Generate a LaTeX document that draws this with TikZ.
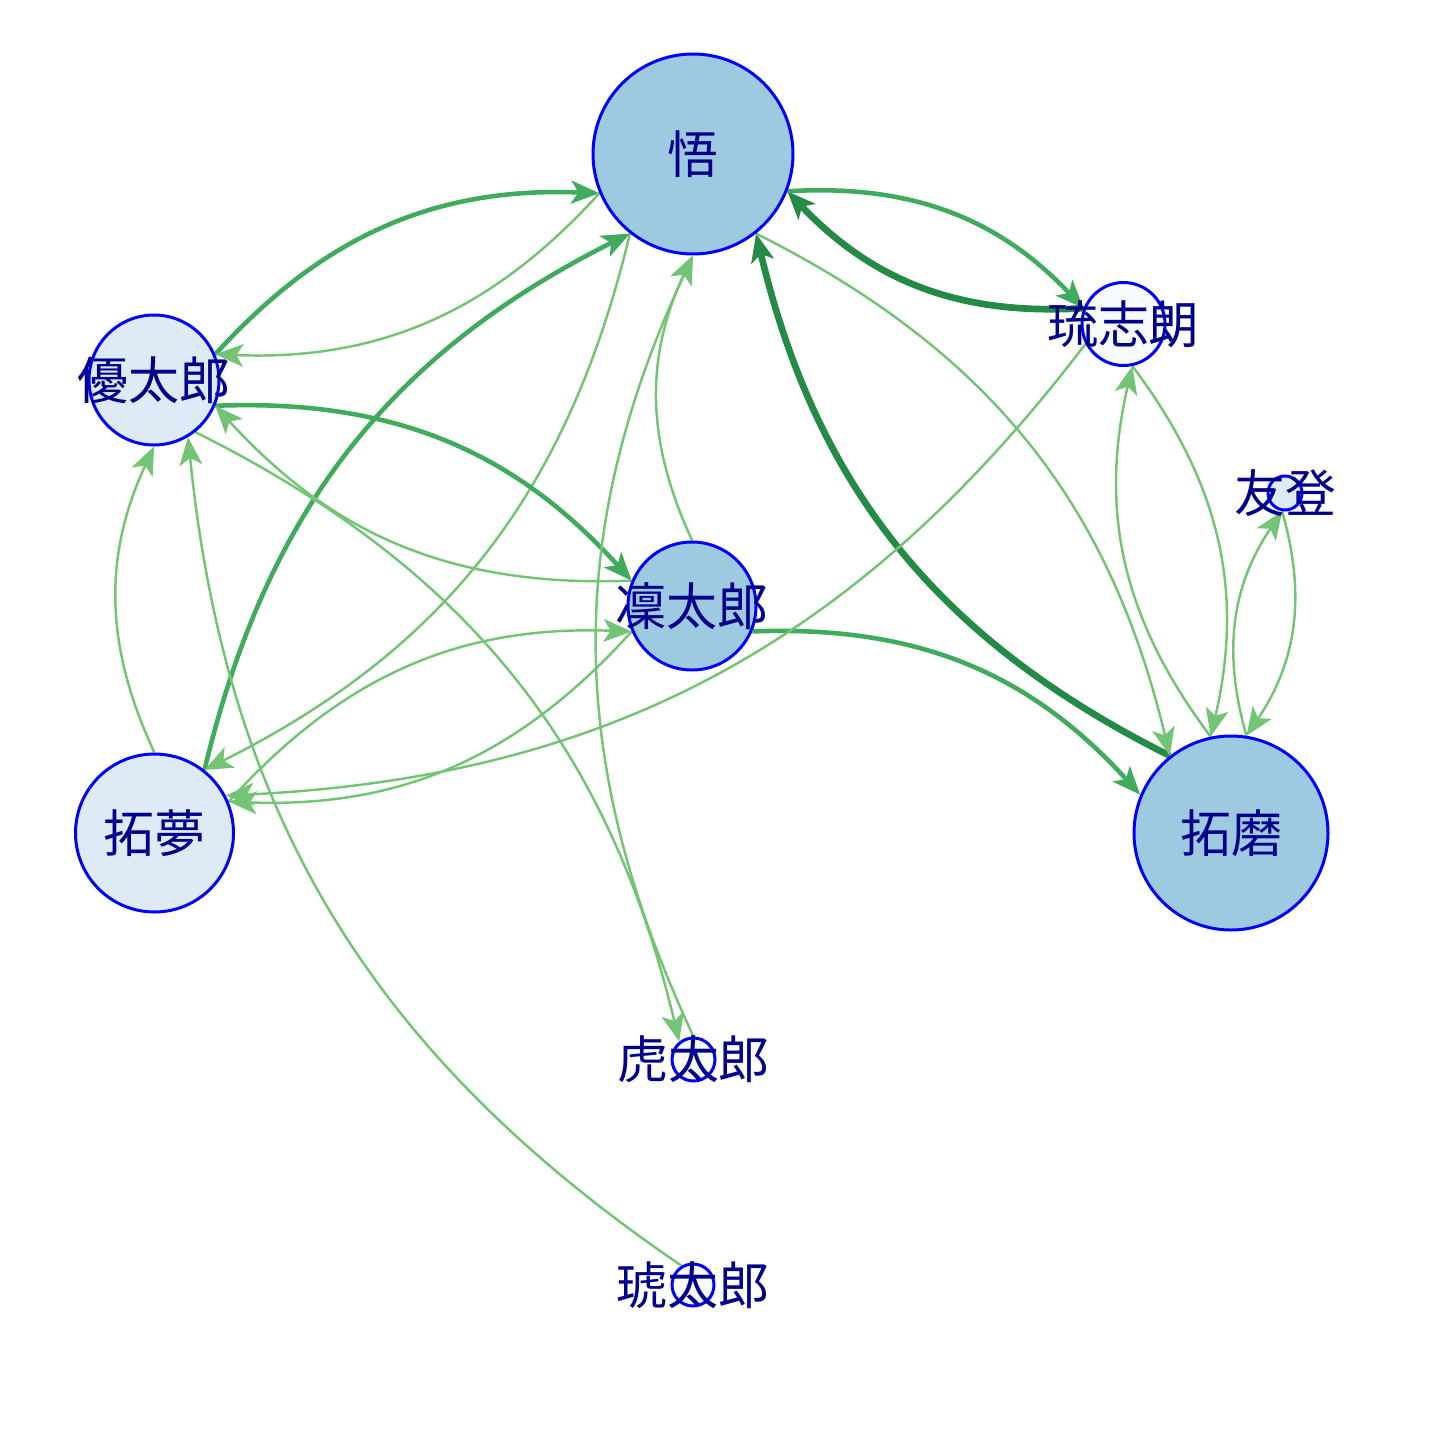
\documentclass[tikz,border=0pt]{standalone}
\usepackage{fontspec}
\newfontfamily\cjk{Noto Sans CJK JP}
\usetikzlibrary{arrows.meta}
\usetikzlibrary{backgrounds}
\definecolor{filldark}{HTML}{9ECAE1}
\definecolor{fillmid}{HTML}{DEEBF7}
\definecolor{fillpale}{HTML}{F7FBFF}
\definecolor{nameink}{HTML}{00008B}
\definecolor{tieweak}{HTML}{74C476}
\definecolor{tiemid}{HTML}{41AB5D}
\definecolor{tiestrong}{HTML}{238B45}
\tikzstyle{person}=[circle, draw=blue, line width=0.85pt, inner sep=0pt]
\tikzstyle{nametag}=[text=nameink, font=\cjk\fontsize{14.5}{14.5}\selectfont, inner sep=0pt]
\tikzstyle{tie}=[-{Stealth[length=8pt,width=6.5pt,inset=2pt]}, bend left=25]
\tikzstyle{weak tie}=[tie, draw=tieweak, line width=0.7pt]
\tikzstyle{mid tie}=[tie, draw=tiemid, line width=1.3pt]
\tikzstyle{strong tie}=[tie, draw=tiestrong, line width=1.9pt]
% curved tie that leaves both circles where the straight line between them would
\newcommand{\drawtie}[3]{%
  \path (#2) -- (#3) coordinate[pos=0] (tie from) coordinate[pos=1] (tie to);
  \draw[#1] (tie from) to (tie to);}

\begin{document}
\begin{tikzpicture}
      \useasboundingbox (0, 0) rectangle (14.4, -14.4);

      \node[person, fill=filldark, minimum size=2cm] (satoru) at (6.93, -1.54) {};
      \node[person, fill=fillpale, minimum size=0.83cm] (ryushiro) at (11.235, -3.24) {};
      \node[person, fill=fillmid, minimum size=1.3cm] (yutaro) at (1.54, -3.8) {};
      \node[person, fill=fillmid, minimum size=0.34cm] (yuto) at (12.85, -4.93) {};
      \node[person, fill=filldark, minimum size=1.28cm] (rintaro) at (6.92, -6.06) {};
      \node[person, fill=fillmid, minimum size=1.58cm] (takumu) at (1.545, -8.33) {};
      \node[person, fill=filldark, minimum size=1.94cm] (takuma) at (12.31, -8.33) {};
      \node[person, fill=fillpale, minimum size=0.43cm] (kotaro) at (6.935, -10.595) {};
      \node[person, fill=fillpale, minimum size=0.42cm] (kotaro2) at (6.93, -12.85) {};

      \node[nametag] at (satoru) {悟};
      \node[nametag] at (ryushiro) {琉志朗};
      \node[nametag] at (yutaro) {優太郎};
      \node[nametag] at (yuto) {友登};
      \node[nametag] at (rintaro) {凜太郎};
      \node[nametag] at (takumu) {拓夢};
      \node[nametag] at (takuma) {拓磨};
      \node[nametag] at (kotaro) {虎太郎};
      \node[nametag] at (kotaro2) {琥太郎};

      \begin{scope}[on background layer]
        \drawtie{mid tie}{yutaro}{satoru}
        \drawtie{weak tie}{satoru}{yutaro}
        \drawtie{mid tie}{takumu}{satoru}
        \drawtie{weak tie}{satoru}{takumu}
        \drawtie{mid tie}{yutaro}{rintaro}
        \drawtie{weak tie}{rintaro}{yutaro}
        \drawtie{strong tie}{ryushiro}{satoru}
        \drawtie{mid tie}{satoru}{ryushiro}
        \drawtie{strong tie}{takuma}{satoru}
        \drawtie{weak tie}{satoru}{takuma}
        \drawtie{mid tie}{rintaro}{takuma}
        \drawtie{weak tie}{rintaro}{satoru}
        \drawtie{weak tie}{kotaro}{satoru}
        \drawtie{weak tie}{yutaro}{kotaro}
        \drawtie{weak tie}{kotaro2}{yutaro}
        \drawtie{weak tie}{takumu}{yutaro}
        \drawtie{weak tie}{rintaro}{takumu}
        \drawtie{weak tie}{takumu}{rintaro}
        \drawtie{weak tie}{ryushiro}{takumu}
        \drawtie{weak tie}{takuma}{ryushiro}
        \drawtie{weak tie}{ryushiro}{takuma}
        \drawtie{weak tie}{takuma}{yuto}
        \drawtie{weak tie}{yuto}{takuma}
      \end{scope}
    \end{tikzpicture}
\end{document}
